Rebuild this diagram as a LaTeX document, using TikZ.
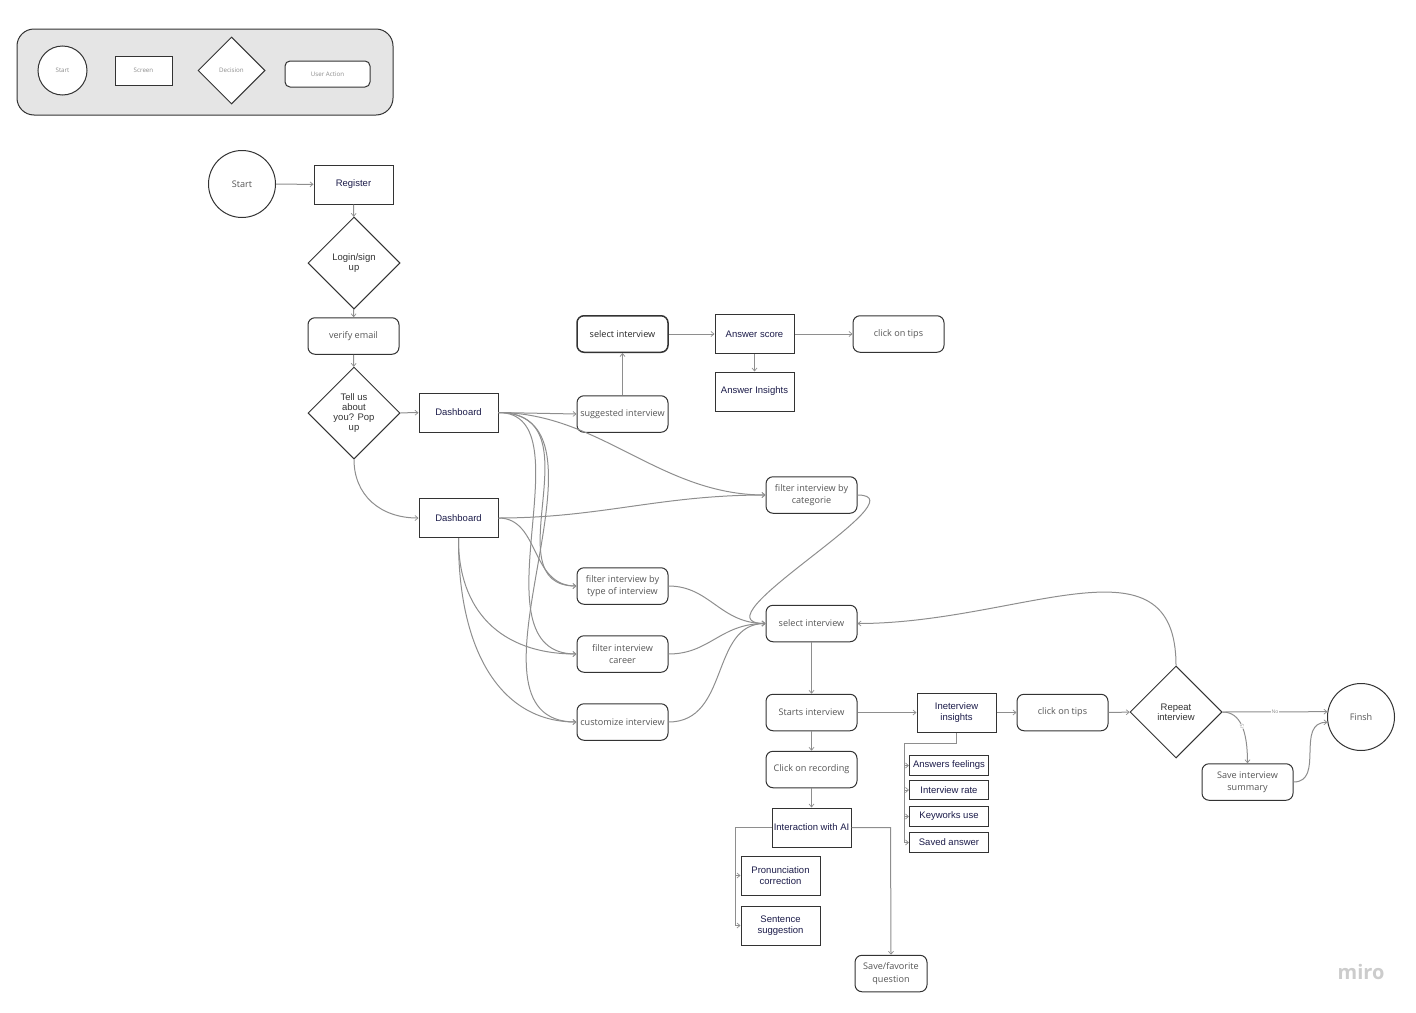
\documentclass[tikz,border=0pt]{standalone}
\usepackage{fontspec}
\setmainfont{Open Sans}
\newfontfamily\arialish{Liberation Sans}
\usetikzlibrary{shapes.geometric,arrows.meta}
\definecolor{ln}{HTML}{333333}
\definecolor{conn}{HTML}{8E8E8E}
\definecolor{usertxt}{HTML}{555555}
\definecolor{scrtxt}{HTML}{1C1C4A}
\definecolor{legtxt}{HTML}{8C8C8C}
\tikzset{
 base/.style={draw=ln,line width=1pt,fill=white,inner sep=0pt,align=center,font=\fontsize{9.1}{12.2}\selectfont},
 startnode/.style={base,circle,minimum size=67pt,text=usertxt},
 screen/.style={base,rectangle,minimum width=79pt,minimum height=39pt,text=scrtxt,font=\arialish\fontsize{9.5}{10.6}\selectfont},
 minibox/.style={screen,minimum height=19.5pt},
 action/.style={base,rectangle,rounded corners=7pt,minimum width=91pt,minimum height=36.5pt,text=usertxt},
 decision/.style={base,diamond,aspect=1,minimum size=92pt,text=ln,font=\arialish\fontsize{9.5}{10.2}\selectfont},
 link/.style={draw=conn,line width=1pt,-{Straight Barb[length=3pt,width=5pt,line width=.7pt]}},
 leg/.style={font=\fontsize{6.2}{7}\selectfont,text=legtxt}
}
\begin{document}
\begin{tikzpicture}[x=1pt,y=-1pt]
\useasboundingbox (0,0) rectangle (1416,1012);
% legend
\node[draw=ln,line width=1pt,fill=black!10,rounded corners=17pt,minimum width=376pt,minimum height=86pt,inner sep=0pt] (legend) at (205,72) {};
\node[startnode,leg,minimum size=49pt] (lstart) at (62.5,70.5) {Start};
\node[screen,leg,minimum width=57pt,minimum height=29pt] (lscreen) at (143.5,70.5) {Screen};
\node[decision,leg,minimum size=67pt] (ldec) at (231.5,70.5) {Decision};
\node[action,leg,minimum width=85pt,minimum height=26pt,rounded corners=5pt] (luser) at (327.5,74) {User Action};
% nodes
\node[startnode] (start) at (242,184) {Start};
\node[screen] (reg) at (353.5,184.5) {Register};
\node[decision] (login) at (354,263) {Login/sign\\up};
\node[action] (verify) at (353.5,336) {verify email};
\node[decision] (tell) at (354,413) {Tell us\\about\\you? Pop\\up};
\node[screen] (d1) at (458.5,412.5) {Dashboard};
\node[screen] (d2) at (458.5,518) {Dashboard};
\node[action,line width=1.5pt,text=black!85] (seltop) at (622.5,334) {select interview};
\node[action] (sugg) at (622.5,414) {suggested interview};
\node[screen] (score) at (754.5,334) {Answer score};
\node[screen] (ains) at (754.5,391.5) {Answer Insights};
\node[action] (tips1) at (898.5,334) {click on tips};
\node[action] (cat) at (811.5,495) {filter interview by\\categorie};
\node[action] (ftype) at (622.5,586) {filter interview by\\type of interview};
\node[action] (fcar) at (622.5,654) {filter interview\\career};
\node[action] (cust) at (622.5,722) {customize interview};
\node[action] (sel) at (811.5,623.5) {select interview};
\node[action] (starts) at (811.5,712.5) {Starts interview};
\node[action] (rec) at (811.5,769.5) {Click on recording};
\node[screen] (ai) at (811.5,827.5) {Interaction with AI};
\node[screen] (pron) at (780.5,875.5) {Pronunciation\\correction};
\node[screen] (sent) at (780.5,925.5) {Sentence\\suggestion};
\node[action,minimum width=72pt] (fav) at (891,973.5) {Save/favorite\\question};
\node[screen] (ins) at (956.5,712.5) {Ineterview\\insights};
\node[minibox] (af) at (949,765.5) {Answers feelings};
\node[minibox] (ir) at (949,790) {Interview rate};
\node[minibox] (kw) at (949,816.5) {Keyworks use};
\node[minibox] (sa) at (949,842.5) {Saved answer};
\node[action] (tips2) at (1062.5,712.5) {click on tips};
\node[decision] (rep) at (1176,712) {Repeat\\interview};
\node[action] (summ) at (1247.5,782) {Save interview\\summary};
\node[startnode] (fin) at (1361,717) {Finsh};
\node[font=\bfseries\fontsize{20}{22}\selectfont,text=black!20] (miro) at (1361,972) {miro};
\coordinate (insbus) at (904,743);
\coordinate (aibus) at (735,827.5);
\coordinate (favbus) at (890.5,827.5);
% connectors
\path[link] (start) -- (reg);
\path[link] (reg) -- (login);
\path[link] (login) -- (verify);
\path[link] (verify) -- (tell);
\path[link] (tell) -- (d1);
\path[link] (tell.south) .. controls (354,495) and (380,518) .. (d2.west);
\path[link] (d1.east) -- (sugg.west);
\path[link] (sugg.north) -- (seltop.south);
\path[link] (seltop) -- (score);
\path[link] (score) -- (ains);
\path[link] (score) -- (tips1);
\path[link] (d1.east) .. controls (600,413) and (660,495) .. (cat.west);
\path[link] (d1.east) .. controls (600,413) and (490,586) .. (ftype.west);
\path[link] (d1.east) .. controls (590,413) and (470,654) .. (fcar.west);
\path[link] (d1.east) .. controls (630,413) and (445,722) .. (cust.west);
\path[link] (d2.east) .. controls (600,518) and (660,495) .. (cat.west);
\path[link] (d2.east) .. controls (540,518) and (530,586) .. (ftype.west);
\path[link] (d2.south) .. controls (458,610) and (500,654) .. (fcar.west);
\path[link] (d2.south) .. controls (458,650) and (500,722) .. (cust.west);
\path[link] (ftype.east) .. controls (710,586) and (720,623.5) .. (sel.west);
\path[link] (fcar.east) .. controls (710,654) and (720,623.5) .. (sel.west);
\path[link] (cust.east) .. controls (730,722) and (710,623.5) .. (sel.west);
\path[link] (cat.east) .. controls (925,495) and (690,623.5) .. (sel.west);
\path[link] (rep.north) .. controls (1176,530) and (1020,623.5) .. (sel.east);
\path[link] (sel) -- (starts);
\path[link] (starts) -- (rec);
\path[link] (rec) -- (ai);
\path[link] (starts) -- (ins);
\path[link] (ins) -- (tips2);
\path[link] (tips2) -- (rep);
\path[link] (ins.south) |- (insbus) |- (af.west);
\path[link] (insbus) |- (ir.west);
\path[link] (insbus) |- (kw.west);
\path[link] (insbus) |- (sa.west);
\path[link] (ai.west) -- (aibus) |- (pron.west);
\path[link] (aibus) |- (sent.west);
\path[link] (ai.east) -- (favbus) -- (fav.north);
\path[link] (rep.east) -- node[fill=white,inner sep=.5pt,font=\fontsize{5}{6}\selectfont,text=legtxt] (nolab) {No} (fin.171);
\path[link] (rep.east) .. controls (1240,712) and (1247.5,730) .. node[pos=.52,fill=white,inner sep=.5pt,font=\fontsize{5}{6}\selectfont,text=legtxt,rotate=-80] (silab) {Si} (summ.north);
\path[link] (summ.east) .. controls (1325,782) and (1295,722) .. (fin.189);
\end{tikzpicture}
\end{document}
